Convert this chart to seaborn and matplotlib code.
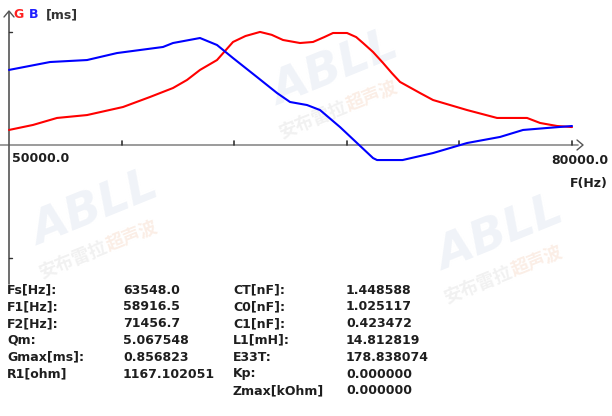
import numpy as np
import pandas as pd
import matplotlib
matplotlib.use("Agg")
import matplotlib.pyplot as plt
import seaborn as sns

# ---- data ----
g_freq = [50000, 51279, 52558, 54157, 56075, 57514, 58739, 59485, 60178, 61084,
          61937, 62600, 63376, 64000, 64601, 65507, 66200, 66800, 67266, 68012,
          68500, 68865, 69398, 69931, 70400, 70837, 71902, 72595, 74407, 76006,
          77605, 78298, 79204, 80000]
g_ms = [0.114, 0.152, 0.205, 0.227, 0.288, 0.364, 0.432, 0.493, 0.569, 0.644,
        0.781, 0.826, 0.857, 0.835, 0.796, 0.773, 0.781, 0.818, 0.849, 0.849,
        0.818, 0.773, 0.705, 0.622, 0.545, 0.478, 0.394, 0.341, 0.265, 0.205,
        0.205, 0.167, 0.144, 0.136]

b_freq = [50000, 52185, 54157, 55755, 58206, 58739, 60178, 61084, 61937, 63216,
          64282, 64974, 65880, 66573, 67639, 68545, 69398, 69611, 70971, 72595,
          74407, 76166, 77392, 78671, 80000]
b_ms = [0.569, 0.629, 0.644, 0.697, 0.743, 0.773, 0.811, 0.758, 0.659, 0.515,
        0.394, 0.326, 0.303, 0.265, 0.136, 0.015, -0.099, -0.114, -0.114, -0.061,
        0.015, 0.061, 0.114, 0.129, 0.144]

labels_left = ["Fs[Hz]:", "F1[Hz]:", "F2[Hz]:", "Qm:", "Gmax[ms]:", "R1[ohm]"]
values_left = ["63548.0", "58916.5", "71456.7", "5.067548", "0.856823", "1167.102051"]
labels_right = ["CT[nF]:", "C0[nF]:", "C1[nF]:", "L1[mH]:", "E33T:", "Kp:", "Zmax[kOhm]"]
values_right = ["1.448588", "1.025117", "0.423472", "14.812819", "178.838074",
                "0.000000", "0.000000"]

x_start, x_end = 50000.0, 80000.0
x_ticks = [50000, 56000, 62000, 68000, 74000, 80000]

# ---- figure ----
sns.set_theme(style="white")
plt.rcParams['font.family'] = ['DejaVu Sans', 'Noto Sans CJK SC']
W, H = 612, 416
fig = plt.figure(figsize=(W / 100, H / 100), dpi=100)
ax = fig.add_axes([0, 0, 1, 1])
ax.set_axis_off()

px_per_hz = 563 / 30000.0
xmin = x_start - 9 / px_per_hz
xmax = xmin + W / px_per_hz
ms_per_px = 0.00758
ymax = 145 * ms_per_px
ymin = ymax - H * ms_per_px
ax.set_xlim(xmin, xmax)
ax.set_ylim(ymin, ymax)

def px(xp, yp):
    return xmin + xp / px_per_hz, ymax - yp * ms_per_px

# watermarks (faint)
wm_pos = [(335, 70), (95, 210), (500, 235)]
for (cx, cy) in wm_pos:
    X, Y = px(cx, cy)
    ax.text(X, Y, "ABLL", fontsize=34, fontstyle='italic', fontweight='bold',
            color='#f0f3f8', rotation=22, ha='center', va='center', zorder=0,
            family=['DejaVu Sans'])
    X2, Y2 = px(cx + 12, cy + 36)
    ax.text(X2, Y2, "安布雷拉", fontsize=13, fontweight='bold',
            color='#f1f1f1', rotation=22, rotation_mode='anchor',
            ha='right', va='center', zorder=0, family=['Noto Sans CJK SC'])
    ax.text(X2, Y2, "超声波", fontsize=13, fontweight='bold',
            color='#fbeee6', rotation=22, rotation_mode='anchor',
            ha='left', va='center', zorder=0, family=['Noto Sans CJK SC'])

# axes lines
ax.plot([xmin, px(578, 0)[0]], [0, 0], color='#8a8a8a', lw=1.2, zorder=1)
ax.plot([x_start, x_start], [px(0, 12)[1], px(0, 284)[1]], color='#555555', lw=1.2, zorder=1)
# arrows
ax.plot([px(4, 0)[0], x_start, px(14, 0)[0]], [px(0, 17)[1], px(0, 11)[1], px(0, 17)[1]],
        color='#555555', lw=1.0)
ax.plot([px(577, 0)[0], px(583, 0)[0], px(577, 0)[0]], [px(0, 140)[1], 0, px(0, 150)[1]],
        color='#555555', lw=1.0)
for xt in x_ticks[1:]:
    ax.plot([xt, xt], [0, px(0, 141)[1]], color='#333333', lw=1.2)
for yp in (32, 258):
    ax.plot([x_start, px(12, 0)[0]], [px(0, yp)[1]] * 2, color='#333333', lw=1.0)

df_g = pd.DataFrame({"F": g_freq, "v": g_ms})
df_b = pd.DataFrame({"F": b_freq, "v": b_ms})
sns.lineplot(data=df_g, x="F", y="v", ax=ax, color='#ff0000', lw=1.5, zorder=3)
sns.lineplot(data=df_b, x="F", y="v", ax=ax, color='#0000ff', lw=1.5, zorder=3)
ax.set_axis_off()

txt = dict(fontsize=9, color='#1e1e1e', fontweight='bold', va='center', zorder=5)
# title
X, Y = px(13, 15)
ax.text(X, Y, "G", color='#ff2020', fontsize=9, fontweight='bold', va='center')
X, Y = px(29, 15)
ax.text(X, Y, "B", color='#2020ff', fontsize=9, fontweight='bold', va='center')
X, Y = px(46, 15)
ax.text(X, Y, "[ms]", color='#333333', fontsize=9, fontweight='bold', va='center')

X, Y = px(12, 158)
ax.text(X, Y, "50000.0", ha='left', **txt)
X, Y = px(608, 160)
ax.text(X, Y, "80000.0", ha='right', **txt)
X, Y = px(608, 183)
ax.text(X, Y, "F(Hz)", ha='right', **txt)

row_y0, row_dy = 290, 16.8
for i, (l, v) in enumerate(zip(labels_left, values_left)):
    yy = row_y0 + i * row_dy
    ax.text(*px(7, yy), l, ha='left', **txt)
    ax.text(*px(123, yy), v, ha='left', **txt)
for i, (l, v) in enumerate(zip(labels_right, values_right)):
    yy = row_y0 + i * row_dy
    ax.text(*px(233, yy), l, ha='left', **txt)
    ax.text(*px(346, yy), v, ha='left', **txt)

fig.savefig("out.png", dpi=100)
